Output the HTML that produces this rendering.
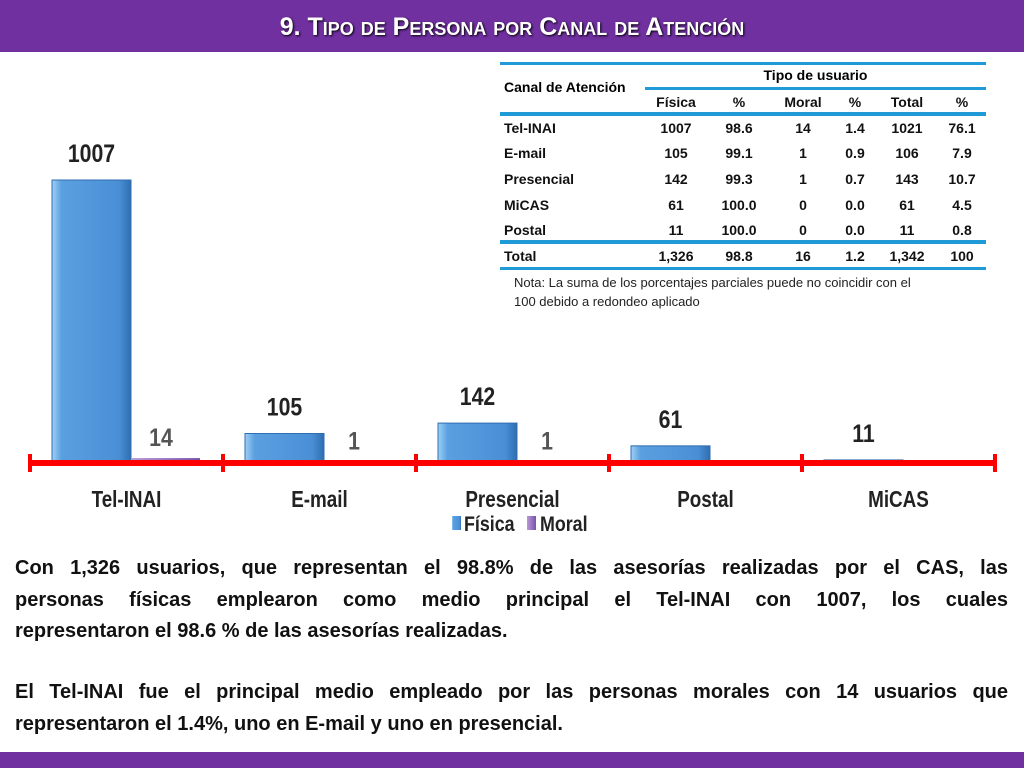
<!DOCTYPE html>
<html><head><meta charset="utf-8"><style>
body{margin:0;width:1024px;height:768px;overflow:hidden;background:#fff;font-family:"Liberation Sans",sans-serif;position:relative}
.abs{position:absolute}
#title{left:0;top:0;width:1024px;height:52px;background:#7030a0;color:#fff;font-weight:bold;font-size:25px;text-align:center;line-height:54px;font-variant:small-caps;text-shadow:1px 1px 2px #000}
#foot{left:0;top:752px;width:1024px;height:16px;background:#7030a0}
table{border-collapse:collapse;font-size:14px;font-weight:bold;color:#111}
td{padding:0;height:25.7px;text-align:center}
.para{left:15px;width:993px;font-size:20px;font-weight:bold;line-height:31.5px;color:#111}
.j{text-align:justify;text-align-last:justify;white-space:nowrap;overflow:visible}
.j{white-space:normal}
</style></head><body>
<div id="title" class="abs">9. Tipo de Persona por Canal de Atención</div>

<div class="abs" style="left:500px;top:62px;width:486px">
<div class="abs" style="left:0;top:0;width:486px;height:3px;background:#1f9ad6"></div>
<div class="abs" style="left:145px;top:25px;width:341px;height:3px;background:#1f9ad6"></div>
<div class="abs" style="left:0;top:50px;width:486px;height:4px;background:#1f9ad6"></div>
<div class="abs" style="left:0;top:178px;width:486px;height:4px;background:#1f9ad6"></div>
<div class="abs" style="left:0;top:205px;width:486px;height:3px;background:#1f9ad6"></div>
<div class="abs" style="left:4px;top:17px;font-size:14px;font-weight:bold">Canal de Atención</div>
<div class="abs" style="left:145px;top:5px;width:341px;text-align:center;font-size:14px;font-weight:bold">Tipo de usuario</div>
<table class="abs" style="left:0;top:27px;width:486px">
<colgroup><col style="width:146px"><col style="width:60px"><col style="width:66px"><col style="width:62px"><col style="width:42px"><col style="width:62px"><col style="width:48px"></colgroup>
<tr style="height:25px"><td></td><td>Física</td><td>%</td><td>Moral</td><td>%</td><td>Total</td><td>%</td></tr>
<tr><td style="text-align:left;padding-left:4px">Tel-INAI</td><td>1007</td><td>98.6</td><td>14</td><td>1.4</td><td>1021</td><td>76.1</td></tr>
<tr><td style="text-align:left;padding-left:4px">E-mail</td><td>105</td><td>99.1</td><td>1</td><td>0.9</td><td>106</td><td>7.9</td></tr>
<tr><td style="text-align:left;padding-left:4px">Presencial</td><td>142</td><td>99.3</td><td>1</td><td>0.7</td><td>143</td><td>10.7</td></tr>
<tr><td style="text-align:left;padding-left:4px">MiCAS</td><td>61</td><td>100.0</td><td>0</td><td>0.0</td><td>61</td><td>4.5</td></tr>
<tr><td style="text-align:left;padding-left:4px">Postal</td><td>11</td><td>100.0</td><td>0</td><td>0.0</td><td>11</td><td>0.8</td></tr>
<tr><td style="text-align:left;padding-left:4px">Total</td><td>1,326</td><td>98.8</td><td>16</td><td>1.2</td><td>1,342</td><td>100</td></tr>
</table>
<div class="abs" style="left:14px;top:211px;width:470px;font-size:13px;line-height:19px;color:#222;white-space:nowrap">Nota: La suma de los porcentajes parciales puede no coincidir con el<br>100 debido a redondeo aplicado</div>
</div>

<svg class="abs" style="left:0;top:0" width="1024" height="545">
<defs>
<linearGradient id="gb" x1="0" x2="1"><stop offset="0" stop-color="#9fd0f5"/><stop offset="0.12" stop-color="#5aa0e0"/><stop offset="0.85" stop-color="#4a8fd6"/><stop offset="1" stop-color="#2f6db0"/></linearGradient>
<linearGradient id="gm" x1="0" x2="1"><stop offset="0" stop-color="#b89ad8"/><stop offset="1" stop-color="#7a52aa"/></linearGradient>
</defs>
<g id="bars"></g>
</svg>

<div class="abs para" style="top:553px">
<div class="j">Con 1,326 usuarios, que representan el 98.8% de las asesorías realizadas por el CAS, las</div>
<div class="j">personas físicas emplearon como medio principal el Tel-INAI con 1007, los cuales</div>
<div>representaron el 98.6 % de las asesorías realizadas.</div>
</div>
<div class="abs para" style="top:677px">
<div class="j">El Tel-INAI fue el principal medio empleado por las personas morales con 14 usuarios que</div>
<div>representaron el 1.4%, uno en E-mail y uno en presencial.</div>
</div>
<div id="foot" class="abs"></div>

<script>
const categories=["Tel-INAI","E-mail","Presencial","Postal","MiCAS"];
const fisica=[1007,105,142,61,11];
const moral=[14,1,1,null,null];
const NS="http://www.w3.org/2000/svg";
const g=document.getElementById('bars');
const x0=30,x1=995,base=463,scale=283/1007;
const cw=(x1-x0)/categories.length;
const y=v=>base-v*scale;
const FF='Liberation Sans Narrow, Liberation Sans, sans-serif';
function mk(t,a){const e=document.createElementNS(NS,t);for(const k in a)e.setAttribute(k,a[k]);g.appendChild(e);return e;}
categories.forEach((c,i)=>{
  const cx=x0+i*cw;
  const fx=cx+22,bw=79;
  const r=mk('rect',{x:fx,y:y(fisica[i]),width:bw,height:Math.max(2,fisica[i]*scale),fill:'url(#gb)',stroke:'#2f6db0','stroke-width':1});
  
  
  const t=mk('text',{x:fx+bw/2,y:y(fisica[i])-18,'text-anchor':'middle','font-size':25,'font-weight':'bold',fill:'#222','font-family':FF,transform:'scale(0.85,1)','transform-origin':(fx+bw/2)+'px 0px'});
  t.textContent=fisica[i];
  
  
  if(moral[i]!=null){
    const mx=fx+bw;
    const m=mk('rect',{x:mx,y:y(moral[i])-1,width:bw-10,height:Math.max(2,moral[i]*scale+1),fill:'url(#gm)'});
    
    
    const mt=mk('text',{x:mx+30,y:y(moral[i])-13,'text-anchor':'middle','font-size':25,'font-weight':'bold',fill:'#555','font-family':FF,transform:'scale(0.85,1)','transform-origin':(mx+30)+'px 0px'});
    mt.textContent=moral[i];
    
    
  }
  const cl=mk('text',{x:cx+cw/2,y:507,'text-anchor':'middle','font-size':23,'font-weight':'bold',fill:'#222','font-family':FF,transform:'scale(0.82,1)','transform-origin':(cx+cw/2)+'px 0px'});
  cl.textContent=c;
  
  
});
const ax=mk('line',{x1:x0,x2:x1,y1:base,y2:base,stroke:'#ff0000','stroke-width':6});


for(let i=0;i<=categories.length;i++){
  const tk=mk('line',{x1:x0+i*cw,x2:x0+i*cw,y1:base-9,y2:base+9,stroke:'#ff0000','stroke-width':4});
  
  
}
const l1=mk('rect',{x:452,y:516,width:9,height:14,fill:'url(#gb)'});


const lt1=mk('text',{x:464,y:531,'font-size':21,'font-weight':'bold',fill:'#222','font-family':FF,transform:'scale(0.85,1)','transform-origin':'464px 0px'});
lt1.textContent='Física';


const l2=mk('rect',{x:527,y:516,width:9,height:14,fill:'url(#gm)'});


const lt2=mk('text',{x:540,y:531,'font-size':21,'font-weight':'bold',fill:'#222','font-family':FF,transform:'scale(0.85,1)','transform-origin':'540px 0px'});
lt2.textContent='Moral';


</script>
</body></html>
